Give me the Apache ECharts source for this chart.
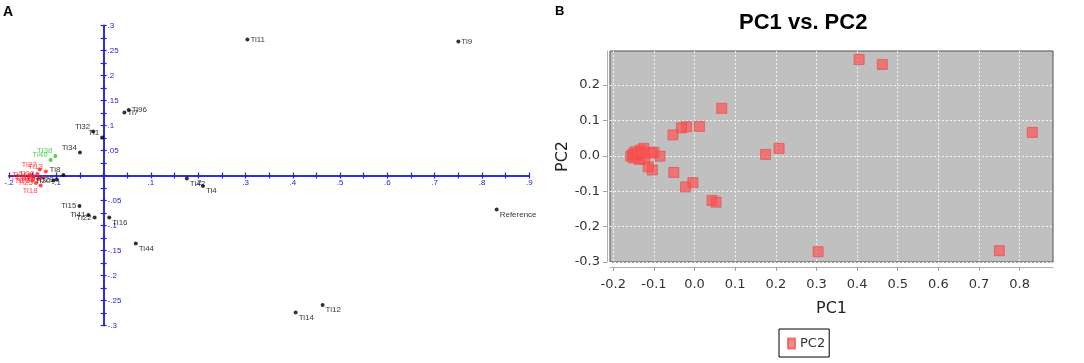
<!DOCTYPE html>
<html><head><meta charset="utf-8">
<script src="https://cdn.jsdelivr.net/npm/echarts/dist/echarts.min.js"></script>
<style>html,body{margin:0;padding:0;background:#fff}#c{width:1084px;height:363px}</style>
</head><body><div id="c"></div>
<script>
// ---------- Panel A: labelled score plot ----------
const aNames = ['Ti11','Ti9','Ti96','Ti7','Ti32','Ti1','Ti34','Ti38','Ti40','Ti8','Ti29','Ti20',
  'Ti42','Ti4','Ti15','Ti41','Ti22','Ti16','Ti44','Ti14','Ti12','Reference',
  'Ti13','Ti27','Ti30','Ti31','Ti24','Ti26','Ti25','Ti19','Ti23','Ti18','Ti3'];
const aPC1 = [0.304,0.750,0.053,0.044,-0.022,-0.003,-0.050,-0.102,-0.112,-0.085,-0.099,-0.106,
  0.176,0.210,-0.051,-0.032,-0.019,0.012,0.068,0.406,0.463,0.831,
  -0.122,-0.135,-0.140,-0.148,-0.155,-0.150,-0.143,-0.138,-0.158,-0.133,-0.128];
const aPC2 = [0.272,0.268,0.131,0.126,0.088,0.076,0.046,0.039,0.031,0.001,-0.008,-0.010,
  -0.006,-0.021,-0.061,-0.079,-0.084,-0.084,-0.136,-0.274,-0.259,-0.068,
  0.008,0.012,0.003,-0.002,0.001,-0.010,-0.015,-0.007,-0.005,-0.020,-0.004];
const aGroup = ['k','k','k','k','k','k','k','g','g','k','k','k',
  'k','k','k','k','k','k','k','k','k','k',
  'r','r','r','r','r','r','r','r','r','r','r'];
const aXRange = [-0.2, 0.9];
const aYRange = [-0.3, 0.3];

// ---------- Panel B: PC1 vs. PC2 ----------
const bPC1 = [0.405,0.462,0.067,0.831,0.175,0.208,0.012,-0.020,-0.032,-0.053,-0.051,-0.004,-0.022,
  0.043,0.053,0.304,0.750,-0.085,-0.100,-0.106,-0.104,-0.114,-0.123,
  -0.157,-0.147,-0.134,-0.125,-0.136,-0.152,-0.143,-0.150,-0.140,-0.130];
const bPC2 = [0.272,0.258,0.134,0.066,0.004,0.021,0.083,0.082,0.079,0.059,-0.047,-0.076,-0.088,
  -0.126,-0.131,-0.271,-0.268,-0.001,0.010,0.008,-0.040,-0.031,-0.009,
  -0.001,0.011,0.016,0.021,-0.010,0.004,0.002,-0.006,0.006,0.008];
const bXTicks = [-0.2,-0.1,0.0,0.1,0.2,0.3,0.4,0.5,0.6,0.7,0.8];
const bYTicks = [-0.3,-0.2,-0.1,0.0,0.1,0.2];

// ---------- styling / layout ----------
const BLUE = '#2222dd';
const groupColor = {k:'#000000', g:'#22cc22', r:'#ff2020'};
const labelPlace = {
  Ti11:'r', Ti9:'r', Ti96:'r', Ti7:'r',
  Ti32:'lt', Ti1:'lt', Ti34:'lt', Ti38:'lt', Ti40:'lt', Ti8:'lt',
  Ti29:'l', Ti20:'l', Ti15:'l', Ti41:'l', Ti22:'l',
  Ti42:'rb', Ti4:'rb', Ti16:'rb', Ti44:'rb', Ti14:'rb', Ti12:'rb', Reference:'rb',
  Ti13:'lt', Ti27:'lt', Ti18:'lb'
};
function placeLabel(p){
  switch(p){
    case 'r': return {position:'right', distance:1, offset:[0,0]};
    case 'rb': return {position:'right', distance:1, offset:[0,5]};
    case 'lt': return {position:'left', distance:1, offset:[0,-5]};
    case 'lb': return {position:'left', distance:1, offset:[0,5]};
    default: return {position:'left', distance:1, offset:[0,0]};
  }
}
function aSeries(g){
  const data = [];
  aNames.forEach((n,i)=>{
    if(aGroup[i]!==g) return;
    data.push({value:[aPC1[i],aPC2[i]], name:n, label:placeLabel(labelPlace[n]||'l')});
  });
  return {
    type:'scatter', xAxisIndex:0, yAxisIndex:0, symbol:'circle', symbolSize:4,
    itemStyle:{color:groupColor[g]}, silent:true,
    label:{show:true, formatter:'{b}', fontSize:8, fontFamily:'Liberation Sans', color:groupColor[g]},
    data, z:3
  };
}
const fmtAX = v => { const t=Math.round(v*100); if(t===0||t%10!==0) return ''; return (t/100).toFixed(1).replace(/^(-?)0\./,'$1.'); };
const fmtAY = v => { const t=Math.round(v*1000); if(t===0||t%50!==0) return ''; return String(t/1000).replace(/^(-?)0\./,'$1.'); };
const fmtB = v => (Math.round(v*10)/10).toFixed(1);

// grid A geometry; axes are moved to cross at the origin via offset
const gA = {left:9, top:25.5, width:520.3, height:300};
const xAxisShiftA = -gA.height * (0 - aYRange[0]) / (aYRange[1] - aYRange[0]);
const yAxisShiftA = -gA.width * (0 - aXRange[0]) / (aXRange[1] - aXRange[0]);
const aLine = {show:true, onZero:false, lineStyle:{color:BLUE, width:1.5}};
const aTick = inside => ({show:true, inside, length:3, lineStyle:{color:BLUE, width:1.2}});

const bFont = {fontFamily:'DejaVu Sans', fontSize:13, color:'#333'};

const option = {
  animation:false,
  backgroundColor:'#ffffff',
  title:[
    {text:'A', left:3, top:5, padding:0, textStyle:{fontSize:14, fontWeight:'bold', fontFamily:'Liberation Sans', color:'#000'}},
    {text:'B', left:555, top:5, padding:0, textStyle:{fontSize:13, fontWeight:'bold', fontFamily:'Liberation Sans', color:'#000'}},
    {text:'PC1 vs. PC2', left:739, top:12, padding:0, textStyle:{fontSize:22, fontWeight:'bold', fontFamily:'Liberation Sans', color:'#000'}}
  ],
  legend:{
    data:['PC2'], left:779, top:329, orient:'horizontal',
    icon:'rect', itemWidth:7, itemHeight:10, padding:[8,4,7,8],
    borderColor:'#000', borderWidth:1,
    textStyle:{fontFamily:'DejaVu Sans', fontSize:13, color:'#333'}
  },
  grid:[
    Object.assign({show:false}, gA),
    {left:610, top:51, width:443, height:211, show:true, backgroundColor:'#c0c0c0', borderColor:'#505050', borderWidth:1}
  ],
  xAxis:[
    {gridIndex:0, type:'value', min:aXRange[0], max:aXRange[1], interval:0.05, position:'bottom', offset:xAxisShiftA,
      axisLine:aLine, axisTick:aTick(false), splitLine:{show:false},
      axisLabel:{formatter:fmtAX, color:BLUE, fontSize:8, fontFamily:'Liberation Sans', margin:3}},
    {gridIndex:0, type:'value', min:aXRange[0], max:aXRange[1], interval:0.05, position:'bottom', offset:xAxisShiftA,
      axisLine:aLine, axisTick:aTick(true), splitLine:{show:false}, axisLabel:{show:false}},
    {gridIndex:1, type:'value', min:-0.208, max:0.882, offset:5,
      axisLine:{show:true, onZero:false, lineStyle:{color:'#b0b0b0'}},
      axisTick:{show:true, length:4, customValues:bXTicks, lineStyle:{color:'#a0a0a0'}},
      axisLabel:Object.assign({customValues:bXTicks, formatter:fmtB, margin:11}, bFont),
      splitLine:{show:true, lineStyle:{color:'#f4f4f4', type:[2,2], width:1}},
      name:'PC1', nameLocation:'middle', nameGap:34,
      nameTextStyle:{fontFamily:'DejaVu Sans', fontSize:16, color:'#222'}}
  ],
  yAxis:[
    {gridIndex:0, type:'value', min:aYRange[0], max:aYRange[1], interval:0.025, position:'left', offset:yAxisShiftA,
      axisLine:aLine, axisTick:aTick(false), splitLine:{show:false},
      axisLabel:{inside:true, formatter:fmtAY, color:BLUE, fontSize:8, fontFamily:'Liberation Sans', margin:4}},
    {gridIndex:0, type:'value', min:aYRange[0], max:aYRange[1], interval:0.025, position:'left', offset:yAxisShiftA,
      axisLine:aLine, axisTick:aTick(true), splitLine:{show:false}, axisLabel:{show:false}},
    {gridIndex:1, type:'value', min:-0.3, max:0.296, offset:3,
      axisLine:{show:true, onZero:false, lineStyle:{color:'#b0b0b0'}},
      axisTick:{show:true, length:4, customValues:bYTicks, lineStyle:{color:'#a0a0a0'}},
      axisLabel:Object.assign({customValues:bYTicks, formatter:fmtB, margin:7}, bFont),
      splitLine:{show:true, lineStyle:{color:'#f4f4f4', type:[2,2], width:1}},
      name:'PC2', nameLocation:'middle', nameGap:35, nameRotate:90,
      nameTextStyle:{fontFamily:'DejaVu Sans', fontSize:16, color:'#222'}}
  ],
  series:[
    aSeries('k'), aSeries('g'), aSeries('r'),
    {
      name:'PC2', type:'scatter', xAxisIndex:2, yAxisIndex:2, symbol:'rect', symbolSize:10,
      itemStyle:{color:'rgba(255,80,80,0.85)', borderColor:'rgba(230,80,80,0.9)', borderWidth:1},
      data: bPC1.map((x,i)=>[x,bPC2[i]])
    }
  ]
};
const chart = echarts.init(document.getElementById('c'));
chart.setOption(option);
</script>
</body></html>
